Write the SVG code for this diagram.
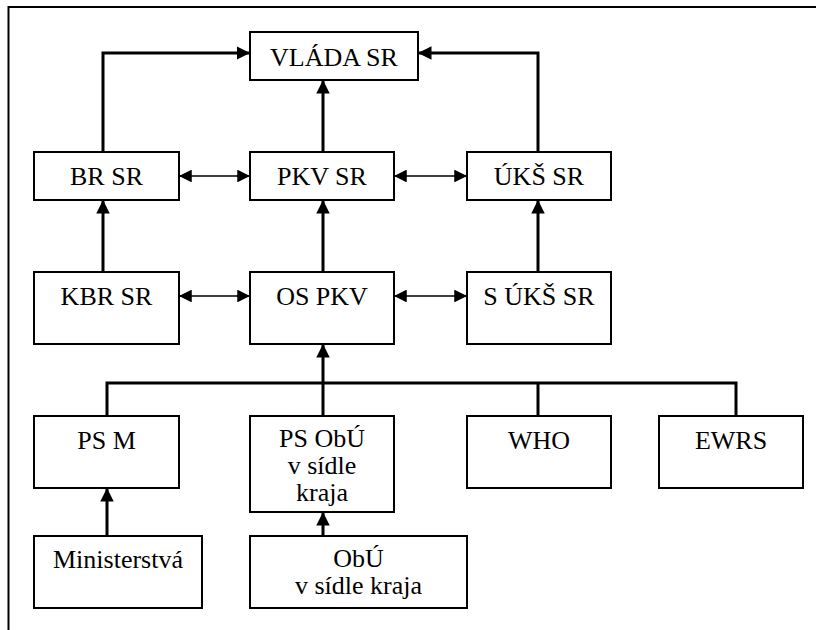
<svg xmlns="http://www.w3.org/2000/svg" width="816" height="630" viewBox="0 0 816 630">
<style>
.box{fill:#fff;stroke:#000;stroke-width:2}
text{font-size:26px;fill:#000;text-anchor:middle}
.c{fill:none;stroke:#000;stroke-width:3}
.d{fill:none;stroke:#000;stroke-width:1.5}
</style>
<defs>
<marker id="ah" viewBox="0 0 10 10" refX="10" refY="5" markerWidth="4.5" markerHeight="4.5" orient="auto" markerUnits="strokeWidth"><path d="M0,0 L10,5 L0,10 z" fill="#000"/></marker>
<marker id="ad" viewBox="0 0 10 10" refX="10" refY="5" markerWidth="9" markerHeight="8.5" orient="auto-start-reverse" markerUnits="strokeWidth"><path d="M0,0 L10,5 L0,10 z" fill="#000"/></marker>
</defs>
<path d="M816,7 H8.5 V630" fill="none" stroke="#000" stroke-width="2"/>
<g id="connectors">
<path class="c" d="M103,152 V53 H250" marker-end="url(#ah)"/>
<path class="c" d="M538,152 V53 H418" marker-end="url(#ah)"/>
<path class="c" d="M323,152 V80" marker-end="url(#ah)"/>
<path class="c" d="M103,272 V200" marker-end="url(#ah)"/>
<path class="c" d="M323,272 V200" marker-end="url(#ah)"/>
<path class="c" d="M538,272 V200" marker-end="url(#ah)"/>
<path class="d" d="M179,176 H250" marker-start="url(#ad)" marker-end="url(#ad)"/>
<path class="d" d="M394,176 H467" marker-start="url(#ad)" marker-end="url(#ad)"/>
<path class="d" d="M179,296 H250" marker-start="url(#ad)" marker-end="url(#ad)"/>
<path class="d" d="M394,296 H467" marker-start="url(#ad)" marker-end="url(#ad)"/>
<path class="c" d="M107,416 V383 H736 V416 M538,383 V416"/>
<path class="c" d="M323,416 V344" marker-end="url(#ah)"/>
<path class="c" d="M107,536 V488" marker-end="url(#ah)"/>
<path class="c" d="M323,536 V512" marker-end="url(#ah)"/>
</g>
<g font-family="'Liberation Serif', Tinos, 'Noto Serif', 'DejaVu Serif', 'Times New Roman', Times, serif">
<g id="vlada"><rect class="box" x="250" y="32" width="168" height="48"/><text x="334" y="66">VLÁDA SR</text></g>
<g id="brsr"><rect class="box" x="34" y="152" width="145" height="48"/><text x="106.5" y="185">BR SR</text></g>
<g id="pkvsr"><rect class="box" x="250" y="152" width="144" height="48"/><text x="322" y="185">PKV SR</text></g>
<g id="uksr"><rect class="box" x="467" y="152" width="144" height="48"/><text x="539" y="185">ÚKŠ SR</text></g>
<g id="kbrsr"><rect class="box" x="34" y="272" width="145" height="72"/><text x="106.5" y="305">KBR SR</text></g>
<g id="ospkv"><rect class="box" x="250" y="272" width="144" height="72"/><text x="322" y="305">OS PKV</text></g>
<g id="suksr"><rect class="box" x="467" y="272" width="144" height="72"/><text x="539" y="305">S ÚKŠ SR</text></g>
<g id="psm"><rect class="box" x="34" y="416" width="145" height="72"/><text x="106.5" y="449">PS M</text></g>
<g id="psobu"><rect class="box" x="250" y="416" width="144" height="96"/><text x="322" y="447">PS ObÚ</text><text x="322" y="474">v sídle</text><text x="322" y="501">kraja</text></g>
<g id="who"><rect class="box" x="467" y="416" width="144" height="72"/><text x="539" y="449">WHO</text></g>
<g id="ewrs"><rect class="box" x="659" y="416" width="144" height="72"/><text x="731" y="449">EWRS</text></g>
<g id="ministerstva"><rect class="box" x="34" y="536" width="168" height="72"/><text x="118" y="568">Ministerstvá</text></g>
<g id="obu"><rect class="box" x="250" y="536" width="217" height="72"/><text x="358.5" y="567">ObÚ</text><text x="358.5" y="594">v sídle kraja</text></g>
</g>
</svg>
